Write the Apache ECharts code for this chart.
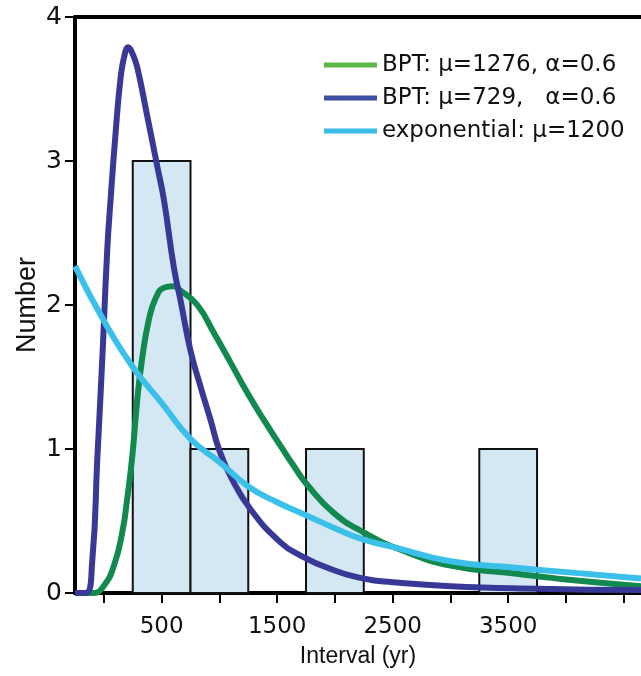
<!DOCTYPE html>
<html>
<head>
<meta charset="utf-8">
<title>Recurrence intervals</title>
<script src="https://cdn.jsdelivr.net/npm/echarts@6/dist/echarts.min.js"></script>
<style>
  html, body { margin: 0; padding: 0; background: #fff; }
  #chart { width: 641px; height: 676px; }
</style>
</head>
<body>
<div id="chart"></div>
<script>
// histogram bins (yr) and counts
var binStart = [250, 750, 1750, 3250];
var binEnd   = [750, 1250, 2250, 3750];
var counts   = [3, 1, 1, 1];

// BPT mu=1276 (green)
var greenX = [-250, -90, 0, 87, 159, 203, 246, 290, 330, 390, 450, 520, 600, 664, 809, 953, 1097, 1242, 1386, 1531, 1646, 1762, 1992, 2252, 2570, 3003, 3500, 3754, 4000, 4650];
var greenY = [0, 0, 0.05, 0.19, 0.42, 0.66, 0.95, 1.35, 1.62, 1.90, 2.05, 2.12, 2.13, 2.10, 2.00, 1.805, 1.60, 1.39, 1.20, 1.02, 0.88, 0.75, 0.555, 0.42, 0.30, 0.19, 0.14, 0.117, 0.094, 0.047];

// BPT mu=729 (dark blue)
var blueX = [-250, -158, -100, -57, -14, 29, 58, 101, 145, 180, 211, 250, 289, 376, 463, 520, 606, 664, 751, 838, 924, 996, 1097, 1271, 1531, 1704, 1935, 2252, 2500, 3003, 3754, 4650];
var blueY = [0, 0, 0.23, 0.93, 1.62, 2.38, 2.73, 3.19, 3.58, 3.74, 3.79, 3.74, 3.65, 3.31, 2.96, 2.73, 2.26, 2.03, 1.68, 1.43, 1.20, 1.0, 0.81, 0.58, 0.35, 0.26, 0.175, 0.10, 0.075, 0.047, 0.03, 0.02];

// exponential mu=1200 (light blue)
var expX = [-250, 0, 250, 500, 750, 1000, 1250, 1500, 1750, 2000, 2250, 2500, 3000, 3500, 4000, 4650];
var expY = [2.27, 1.89, 1.57, 1.32, 1.07, 0.91, 0.74, 0.63, 0.54, 0.45, 0.37, 0.32, 0.22, 0.18, 0.145, 0.10];

var xTicks  = [0, 500, 1000, 1500, 2000, 2500, 3000, 3500, 4000, 4500];
var xLabels = [500, 1500, 2500, 3500];

var names = ['BPT: \u03bc=1276, \u03b1=0.6', 'BPT: \u03bc=729,   \u03b1=0.6', 'exponential: \u03bc=1200'];

function pairs(xs, ys) {
  var out = [];
  for (var i = 0; i < xs.length; i++) out.push([xs[i], ys[i]]);
  return out;
}

var bins = [];
for (var i = 0; i < counts.length; i++) bins.push([binStart[i], binEnd[i], counts[i]]);

var font = 'DejaVu Sans';
var chart = echarts.init(document.getElementById('chart'));

chart.setOption({
  animation: false,
  textStyle: { fontFamily: font },
  grid: { left: 75, right: 0, top: 17, bottom: 83 },
  legend: {
    orient: 'vertical',
    left: 319,
    top: 46,
    icon: 'rect',
    itemWidth: 53,
    itemHeight: 5,
    itemGap: 5,
    textStyle: { fontFamily: font, fontSize: 23, lineHeight: 28, color: '#111' },
    data: [
      { name: names[0], itemStyle: { color: '#5cb846' } },
      { name: names[1], itemStyle: { color: '#3c4fa2' } },
      { name: names[2], itemStyle: { color: '#3bbce8' } }
    ]
  },
  xAxis: [{
    type: 'value',
    min: -250,
    max: 4650,
    position: 'bottom',
    name: 'Interval (yr)',
    nameLocation: 'middle',
    nameGap: 52,
    nameTextStyle: { fontFamily: 'Liberation Sans', fontSize: 23, color: '#111' },
    axisLine: { show: true, onZero: false, lineStyle: { color: '#000', width: 4 } },
    axisTick: { show: true, customValues: xTicks, length: 10, lineStyle: { color: '#000', width: 2 } },
    axisLabel: {
      customValues: xLabels, fontFamily: font, fontSize: 23, color: '#111', margin: 23,
      formatter: function (v) { return String(v); }
    },
    splitLine: { show: false }
  }, {
    type: 'value',
    min: -250,
    max: 4650,
    position: 'top',
    axisLine: { show: true, onZero: false, lineStyle: { color: '#000', width: 4 } },
    axisTick: { show: false },
    axisLabel: { show: false },
    splitLine: { show: false }
  }],
  yAxis: {
    type: 'value',
    min: 0,
    max: 4,
    interval: 1,
    name: 'Number',
    nameLocation: 'middle',
    nameGap: 34,
    nameMoveOverlap: false,
    nameTextStyle: { fontFamily: 'Liberation Sans', fontSize: 27, color: '#111' },
    axisLine: { show: true, onZero: false, lineStyle: { color: '#000', width: 4 } },
    axisTick: { show: true, length: 10, lineStyle: { color: '#000', width: 2 } },
    axisLabel: { fontFamily: font, fontSize: 25, color: '#111', margin: 13 },
    splitLine: { show: false }
  },
  series: [{
    type: 'custom',
    silent: true,
    data: bins,
    encode: { x: [0, 1], y: 2 },
    renderItem: function (params, api) {
      var p0 = api.coord([api.value(0), api.value(2)]);
      var p1 = api.coord([api.value(1), 0]);
      return {
        type: 'rect',
        shape: { x: p0[0], y: p0[1], width: p1[0] - p0[0], height: p1[1] - p0[1] },
        style: { fill: '#d4e8f3', stroke: '#111', lineWidth: 2 }
      };
    }
  }, {
    name: names[0],
    type: 'line',
    data: pairs(greenX, greenY),
    symbol: 'none',
    smooth: 0.5,
    lineStyle: { color: '#128a4f', width: 6 },
    itemStyle: { color: '#128a4f' }
  }, {
    name: names[1],
    type: 'line',
    data: pairs(blueX, blueY),
    symbol: 'none',
    smooth: 0.5,
    lineStyle: { color: '#383896', width: 6 },
    itemStyle: { color: '#383896' }
  }, {
    name: names[2],
    type: 'line',
    data: pairs(expX, expY),
    symbol: 'none',
    smooth: 0.5,
    lineStyle: { color: '#3bc0ea', width: 6 },
    itemStyle: { color: '#3bc0ea' }
  }]
});
</script>
</body>
</html>
